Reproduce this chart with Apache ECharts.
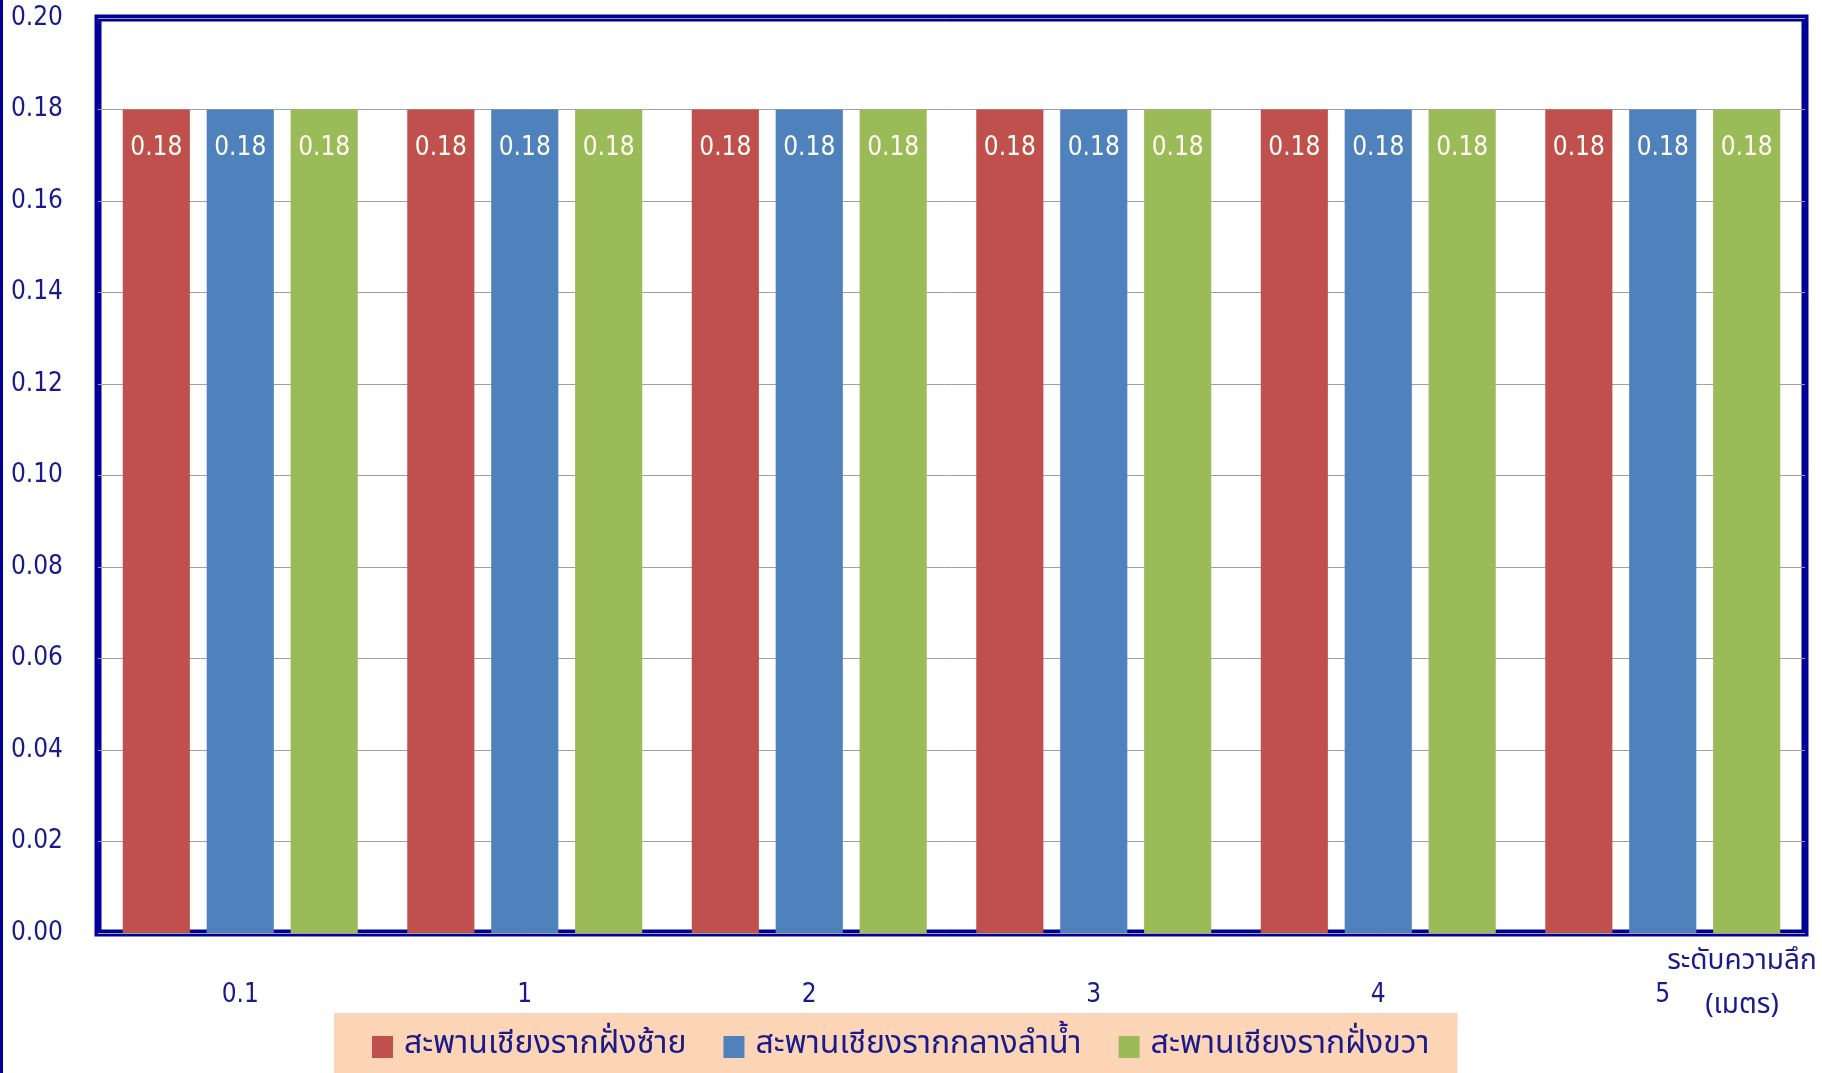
<!DOCTYPE html>
<html>
<head>
<meta charset="utf-8">
<script src="https://cdn.jsdelivr.net/npm/echarts@6/dist/echarts.min.js"></script>
<style>
html,body{margin:0;padding:0;background:#fff;}
#chart{width:1822px;height:1073px;}
</style>
</head>
<body>
<div id="chart"></div>
<script>
var categories = ['0.1', '1', '2', '3', '4', '5'];
var seriesNames = ['สะพานเชียงรากฝั่งซ้าย', 'สะพานเชียงรากกลางลำน้ำ', 'สะพานเชียงรากฝั่งขวา'];
var leftBankValues = [0.18, 0.18, 0.18, 0.18, 0.18, 0.18];
var midStreamValues = [0.18, 0.18, 0.18, 0.18, 0.18, 0.18];
var rightBankValues = [0.18, 0.18, 0.18, 0.18, 0.18, 0.18];
var yTickLabels = ['0.00','0.02','0.04','0.06','0.08','0.10','0.12','0.14','0.16','0.18','0.20'];
var xAxisTitle = 'ระดับความลึก\n(เมตร)';

var numFont = '"DejaVu Sans Condensed", "DejaVu Sans", sans-serif';
var thaiFont = 'Tahoma, "Noto Sans Thai", "Noto Sans", sans-serif';
var navy = '#1A1A8C';
var colors = ['#C0504D', '#4F81BD', '#9BBB59'];

function makeSeries(name, data, color) {
  return {
    type: 'bar',
    name: name,
    data: data,
    barGap: '25%',
    barCategoryGap: '17.4%',
    itemStyle: { color: color },
    label: {
      show: true,
      position: 'insideTop',
      distance: 26,
      color: '#FFFFF4',
      fontFamily: numFont,
      fontSize: 26,
      formatter: function (p) { return p.value.toFixed(2); }
    }
  };
}

var chart = echarts.init(document.getElementById('chart'), null, { renderer: 'canvas' });
chart.setOption({
  animation: false,
  color: colors,
  grid: {
    left: 98, right: 17, top: 18, bottom: 140,
    show: true,
    borderColor: '#000099',
    borderWidth: 7,
    backgroundColor: 'transparent',
    containLabel: false
  },
  graphic: [{
    type: 'rect',
    left: 0, top: 0,
    shape: { width: 3, height: 1073 },
    style: { fill: '#000099' },
    silent: true
  }],
  legend: {
    left: 334,
    top: 1013,
    padding: [18, 28, 30, 38],
    itemGap: 37,
    itemWidth: 21,
    itemHeight: 22,
    icon: 'rect',
    backgroundColor: '#FBD5B5',
    borderRadius: 0,
    textStyle: { color: navy, fontFamily: thaiFont, fontSize: 32, padding: [0, 0, 0, 6] },
    data: seriesNames
  },
  xAxis: {
    type: 'category',
    data: categories,
    axisLine: { show: false },
    axisTick: { show: false },
    axisLabel: { color: navy, fontFamily: numFont, fontSize: 26, margin: 49 },
    name: xAxisTitle,
    nameLocation: 'end',
    nameGap: -63,
    nameMoveOverlap: false,
    nameTextStyle: {
      color: navy, fontFamily: thaiFont, fontSize: 28, lineHeight: 44,
      align: 'center', verticalAlign: 'top', padding: [8, 0, 0, 0]
    }
  },
  yAxis: {
    type: 'value',
    min: 0,
    max: 0.2,
    interval: 0.02,
    axisLine: { show: false },
    axisTick: { show: false },
    axisLabel: {
      color: navy, fontFamily: numFont, fontSize: 26, margin: 35,
      formatter: function (v) { return yTickLabels[Math.round(v / 0.02)]; }
    },
    splitLine: { show: true, lineStyle: { color: '#A0A0A0', width: 1 } }
  },
  series: [
    makeSeries(seriesNames[0], leftBankValues, colors[0]),
    makeSeries(seriesNames[1], midStreamValues, colors[1]),
    makeSeries(seriesNames[2], rightBankValues, colors[2])
  ]
});
</script>
</body>
</html>
